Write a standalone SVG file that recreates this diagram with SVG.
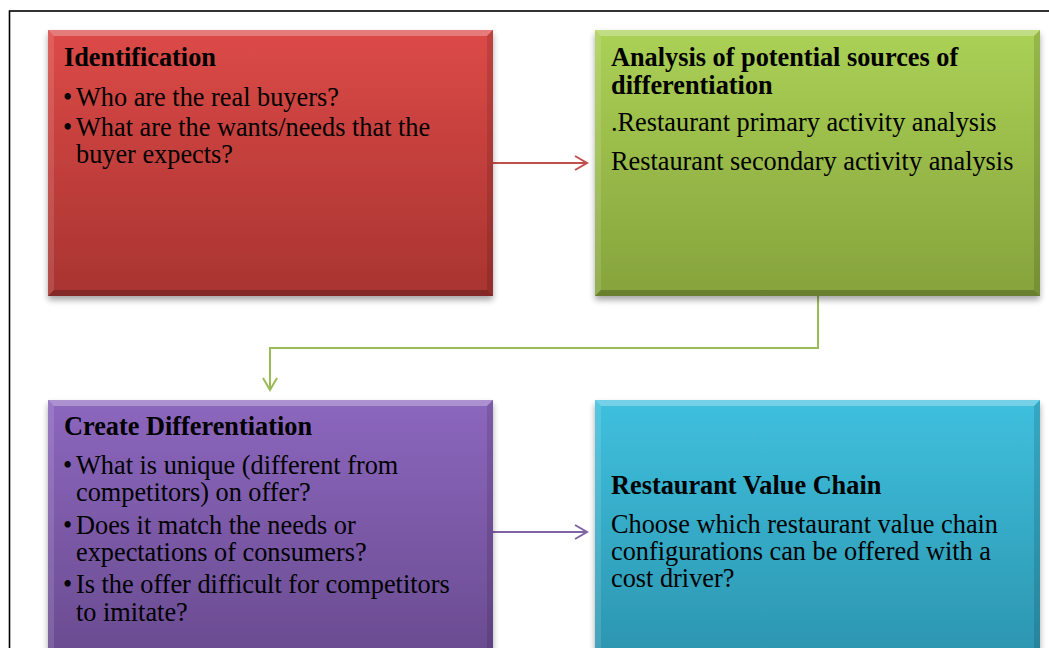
<svg xmlns="http://www.w3.org/2000/svg" width="1049" height="648" viewBox="0 0 1049 648">
  <style>
    .t { font-family: "Liberation Serif", "Times New Roman", serif; font-size: 26.3px; fill: #000; }
    .b { font-weight: bold; }
    .hi { fill: #ffffff; opacity: 0.28; }
    .hi2 { fill: #ffffff; opacity: 0.12; }
    .lo { fill: #000000; opacity: 0.22; }
    .lo2 { fill: #000000; opacity: 0.12; }
    .conn { fill: none; stroke-width: 2; }
  </style>
  <defs>
    <linearGradient id="gRed" x1="0" y1="0" x2="0" y2="1">
      <stop offset="0" stop-color="#dc4a47"/>
      <stop offset="1" stop-color="#a83431"/>
    </linearGradient>
    <linearGradient id="gGreen" x1="0" y1="0" x2="0" y2="1">
      <stop offset="0" stop-color="#abd156"/>
      <stop offset="1" stop-color="#86a33c"/>
    </linearGradient>
    <linearGradient id="gPurple" x1="0" y1="0" x2="0" y2="1">
      <stop offset="0" stop-color="#8c67be"/>
      <stop offset="1" stop-color="#684a8e"/>
    </linearGradient>
    <linearGradient id="gBlue" x1="0" y1="0" x2="0" y2="1">
      <stop offset="0" stop-color="#3fc0de"/>
      <stop offset="1" stop-color="#2b93ad"/>
    </linearGradient>
    <filter id="shadow" x="-5%" y="-5%" width="110%" height="115%">
      <feGaussianBlur in="SourceAlpha" stdDeviation="3"/>
      <feOffset dx="0" dy="4" result="blur"/>
      <feComponentTransfer><feFuncA type="linear" slope="0.35"/></feComponentTransfer>
      <feMerge><feMergeNode/><feMergeNode in="SourceGraphic"/></feMerge>
    </filter>
    <marker id="chevR" markerWidth="16" markerHeight="16" refX="14" refY="8" orient="auto" markerUnits="userSpaceOnUse">
      <path d="M2,1 L14,8 L2,15" fill="none" stroke="#c0504d" stroke-width="2"/>
    </marker>
    <marker id="chevG" markerWidth="16" markerHeight="16" refX="14" refY="8" orient="auto" markerUnits="userSpaceOnUse">
      <path d="M2,1 L14,8 L2,15" fill="none" stroke="#9bbb59" stroke-width="2"/>
    </marker>
    <marker id="chevP" markerWidth="16" markerHeight="16" refX="14" refY="8" orient="auto" markerUnits="userSpaceOnUse">
      <path d="M2,1 L14,8 L2,15" fill="none" stroke="#8064a2" stroke-width="2"/>
    </marker>
  </defs>

  <rect x="0" y="0" width="1049" height="648" fill="#ffffff"/>
  <!-- outer frame -->
  <rect x="9.5" y="11" width="1100" height="700" fill="none" stroke="#000" stroke-width="1.6"/>

  <!-- connectors -->
  <g id="connectors">
    <path class="conn" d="M493,163 H587" stroke="#c0504d" marker-end="url(#chevR)"/>
    <path class="conn" d="M818,296 V348 H270 V390" stroke="#9bbb59" marker-end="url(#chevG)"/>
    <path class="conn" d="M493,532 H587" stroke="#8064a2" marker-end="url(#chevP)"/>
  </g>

  <!-- Identification -->
  <g id="identification">
    <g filter="url(#shadow)">
      <rect x="48" y="30" width="445" height="266" fill="url(#gRed)"/>
    </g>
    <polygon class="hi" points="48,30 493,30 487,36 54,36"/>
    <polygon class="hi2" points="48,30 54,36 54,290 48,296"/>
    <polygon class="lo2" points="493,30 493,296 487,290 487,36"/>
    <polygon class="lo" points="48,296 493,296 487,290 54,290"/>
    <text class="t b" x="64" y="66">Identification</text>
    <text class="t" x="63" y="106">•</text>
    <text class="t" x="76" y="106">Who are the real buyers?</text>
    <text class="t" x="63" y="136">•</text>
    <text class="t" x="76" y="136">What are the wants/needs that the</text>
    <text class="t" x="76" y="163">buyer expects?</text>
  </g>

  <!-- Analysis of potential sources -->
  <g id="analysis">
    <g filter="url(#shadow)">
      <rect x="595" y="30" width="445" height="266" fill="url(#gGreen)"/>
    </g>
    <polygon class="hi" points="595,30 1040,30 1034,36 601,36"/>
    <polygon class="hi2" points="595,30 601,36 601,290 595,296"/>
    <polygon class="lo2" points="1040,30 1040,296 1034,290 1034,36"/>
    <polygon class="lo" points="595,296 1040,296 1034,290 601,290"/>
    <text class="t b" x="611" y="66">Analysis of potential sources of</text>
    <text class="t b" x="611" y="94">differentiation</text>
    <text class="t" x="611" y="131">.Restaurant primary activity analysis</text>
    <text class="t" x="611" y="170">Restaurant secondary activity analysis</text>
  </g>

  <!-- Create Differentiation -->
  <g id="create-differentiation">
    <g filter="url(#shadow)">
      <rect x="48" y="400" width="445" height="270" fill="url(#gPurple)"/>
    </g>
    <polygon class="hi" points="48,400 493,400 487,406 54,406"/>
    <polygon class="hi2" points="48,400 54,406 54,670 48,670"/>
    <polygon class="lo2" points="493,400 493,670 487,670 487,406"/>
    <text class="t b" x="64" y="435">Create Differentiation</text>
    <text class="t" x="63" y="474">•</text>
    <text class="t" x="76" y="474">What is unique (different from</text>
    <text class="t" x="76" y="501">competitors) on offer?</text>
    <text class="t" x="63" y="534">•</text>
    <text class="t" x="76" y="534">Does it match the needs or</text>
    <text class="t" x="76" y="561">expectations of consumers?</text>
    <text class="t" x="63" y="593">•</text>
    <text class="t" x="76" y="593">Is the offer difficult for competitors</text>
    <text class="t" x="76" y="621">to imitate?</text>
  </g>

  <!-- Restaurant Value Chain -->
  <g id="value-chain">
    <g filter="url(#shadow)">
      <rect x="595" y="400" width="445" height="270" fill="url(#gBlue)"/>
    </g>
    <polygon class="hi" points="595,400 1040,400 1034,406 601,406"/>
    <polygon class="hi2" points="595,400 601,406 601,670 595,670"/>
    <polygon class="lo2" points="1040,400 1040,670 1034,670 1034,406"/>
    <text class="t b" x="611" y="494">Restaurant Value Chain</text>
    <text class="t" x="611" y="533">Choose which restaurant value chain</text>
    <text class="t" x="611" y="560">configurations can be offered with a</text>
    <text class="t" x="611" y="587">cost driver?</text>
  </g>
</svg>
